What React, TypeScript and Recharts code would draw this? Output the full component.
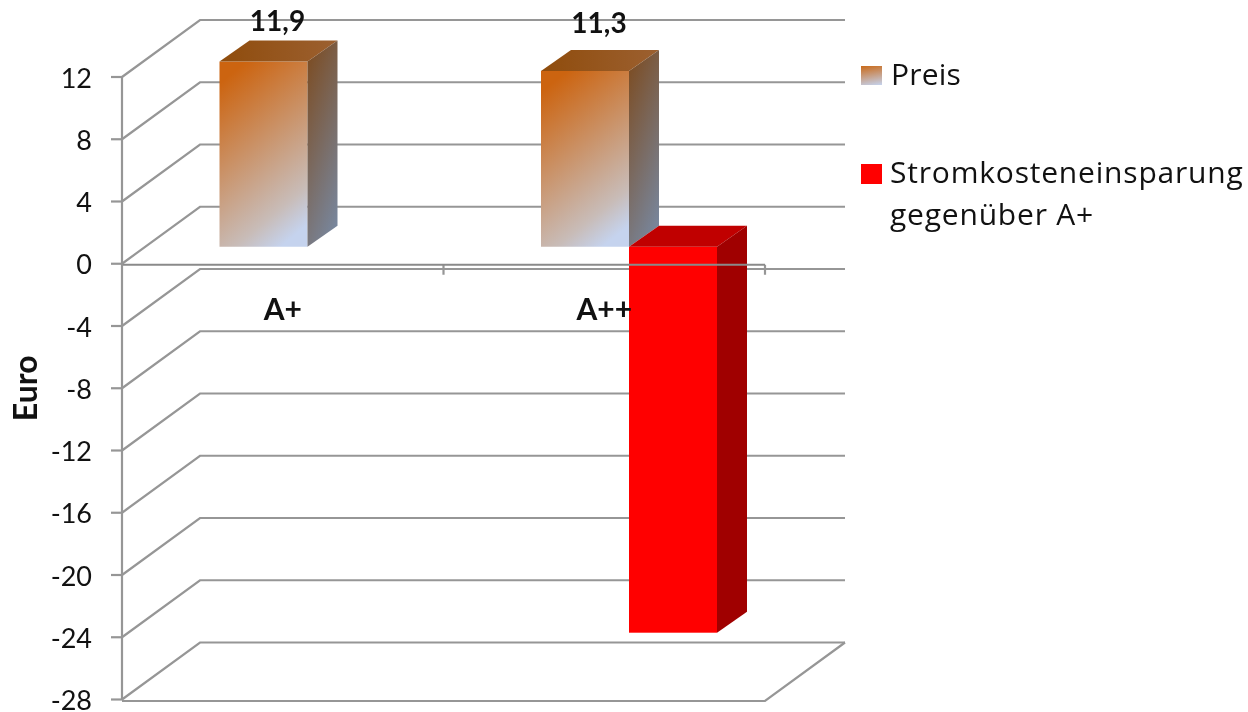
import React from "react";
import { BarChart, Bar, XAxis, YAxis, CartesianGrid, Legend, LabelList, ReferenceLine } from "recharts";

const categories = ["A+", "A++"];
const preisValues = [11.9, 11.3];
const einsparungValues = [null, -24.8];
const yTicks = [12, 8, 4, 0, -4, -8, -12, -16, -20, -24, -28];
const labelLift = [48, 55];
const chartData = categories.map((name, i) => ({ name, preis: preisValues[i], einsparung: einsparungValues[i] }));

const FONT = "Lato, 'Open Sans', sans-serif";
const LEGEND_FONT = "'Open Sans', sans-serif";
const GRID = "#969696";
const WALL_DX = 78;
const WALL_DY = 57;
const BAR_OX = 24.5;
const BAR_OY = -17;
const DEPTH_X = 30;
const DEPTH_Y = 21;

function box3d(props: any, front: string, top: string, side: string) {
  const { x, y, width, height } = props;
  if (height == null || width == null || Math.abs(height) < 0.01) return <g />;
  const l = x + BAR_OX;
  const r = l + width;
  const t = Math.min(y, y + height) + BAR_OY;
  const b = t + Math.abs(height);
  return (
    <g>
      <rect x={l} y={t} width={width} height={b - t} fill={front} />
      <polygon points={`${l},${t} ${r},${t} ${r + DEPTH_X},${t - DEPTH_Y} ${l + DEPTH_X},${t - DEPTH_Y}`} fill={top} />
      <polygon points={`${r},${t} ${r + DEPTH_X},${t - DEPTH_Y} ${r + DEPTH_X},${b - DEPTH_Y} ${r},${b}`} fill={side} />
    </g>
  );
}

const PreisShape = (p: any) => box3d(p, "url(#preisFront)", "url(#preisTop)", "url(#preisSide)");
const EinsparungShape = (p: any) => box3d(p, "#ff0000", "#c00000", "#a00000");

function gridLine(p: any) {
  const { x1, x2, y1, index } = p;
  const isFloor = Math.abs(y1 - 699.5) < 2;
  const isZero = Math.abs(y1 - 264) < 2;
  const w = x2 - x1;
  return (
    <g key={`g-${index}`} fill="none" stroke={GRID} strokeWidth={2.2}>
      <polyline points={`${x1},${y1} ${x1 + WALL_DX},${y1 - WALL_DY} ${x2 + 80},${y1 - WALL_DY}`} />
      {isFloor && <polyline points={`${x1},${y1 + 1.5} ${x2},${y1 + 1.5} ${x2 + 80},${y1 - WALL_DY}`} />}
      {isZero && (
        <>
          <line x1={x1 + w / 2} x2={x1 + w / 2} y1={y1 + 1} y2={y1 + 11} />
          <line x1={x2} x2={x2} y1={y1 + 1} y2={y1 + 11} />
        </>
      )}
    </g>
  );
}

const XTick = (p: any) => (
  <text x={p.x} y={320} textAnchor="middle" fontFamily={FONT} fontWeight={700} fontSize={30} fill="#111">
    {p.payload.value}
  </text>
);

const YTick = (p: any) => (
  <text x={92} y={p.y + 10.5} textAnchor="end" fontFamily={FONT} fontSize={27} fill="#111">
    {p.payload.value}
  </text>
);

const ValueLabel = (p: any) => {
  const { x, y, width, value, index } = p;
  if (value == null) return null;
  return (
    <text x={x + width / 2 + BAR_OX + 14} y={y - labelLift[index]} textAnchor="middle" fontFamily={FONT} fontWeight={700} fontSize={28} fill="#111">
      {String(value).replace(".", ",")}
    </text>
  );
};

const LegendBox = () => (
  <div style={{ position: "relative", width: 386, height: 180, fontFamily: LEGEND_FONT, fontSize: 30, color: "#111", lineHeight: "42px" }}>
    <div style={{ position: "absolute", left: 0, top: 6, width: 21, height: 19, background: "linear-gradient(170deg,#c96a1a,#c5d3ee)" }} />
    <div style={{ position: "absolute", left: 30, top: -7, letterSpacing: 0.2 }}>Preis</div>
    <div style={{ position: "absolute", left: 0, top: 104, width: 21, height: 20, background: "#ff0000" }} />
    <div style={{ position: "absolute", left: 29, top: 91, whiteSpace: "nowrap", letterSpacing: 0.8 }}>Stromkosteneinsparung<br />gegenüber A+</div>
  </div>
);

export default function App() {
  return (
    <div style={{ position: "absolute", left: 0, top: 0, width: 1248, height: 712, background: "#fff", filter: "blur(0.5px)" }}>
      <BarChart
        width={1248}
        height={712}
        data={chartData}
        margin={{ top: 77, right: 483, bottom: 11.5, left: 0 }}
        barSize={88}
        barGap={0}
      >
        <defs>
          <linearGradient id="preisFront" x1="0.3" y1="0" x2="0.7" y2="1">
            <stop offset="0" stopColor="#cc6410" />
            <stop offset="0.82" stopColor="#c8bcb8" />
            <stop offset="1" stopColor="#c5d3ee" />
          </linearGradient>
          <linearGradient id="preisTop" x1="0" y1="0" x2="1" y2="0">
            <stop offset="0" stopColor="#8f4c0c" />
            <stop offset="1" stopColor="#9c6030" />
          </linearGradient>
          <linearGradient id="preisSide" x1="0.3" y1="0" x2="0.7" y2="1">
            <stop offset="0" stopColor="#7c4f28" />
            <stop offset="1" stopColor="#78869c" />
          </linearGradient>
        </defs>
        <CartesianGrid vertical={false} horizontal={gridLine as any} />
        <XAxis dataKey="name" height={1} axisLine={false} tickLine={false} tick={XTick as any} interval={0} />
        <YAxis
          width={122}
          type="number"
          domain={[-28, 12]}
          ticks={yTicks}
          interval={0}
          tick={YTick as any}
          tickSize={11}
          axisLine={{ stroke: GRID, strokeWidth: 2.2 }}
          tickLine={{ stroke: GRID, strokeWidth: 2.2 }}
          label={{ value: "Euro", angle: -90, position: "insideLeft", dx: 21, style: { fontFamily: FONT, fontWeight: 700, fontSize: 32, fill: "#111", textAnchor: "middle" } } as any}
        />
        <Bar dataKey="preis" isAnimationActive={false} shape={PreisShape as any}>
          <LabelList dataKey="preis" content={ValueLabel as any} />
        </Bar>
        <Bar dataKey="einsparung" isAnimationActive={false} shape={EinsparungShape as any} />
        <ReferenceLine y={0} stroke="#8a8a8a" strokeWidth={1.8} transform="translate(0,1)" />
        <Legend
          layout="vertical"
          align="center"
          verticalAlign="middle"
          wrapperStyle={{ left: 861, top: 60, width: 386 }}
          content={LegendBox as any}
        />
      </BarChart>
    </div>
  );
}
